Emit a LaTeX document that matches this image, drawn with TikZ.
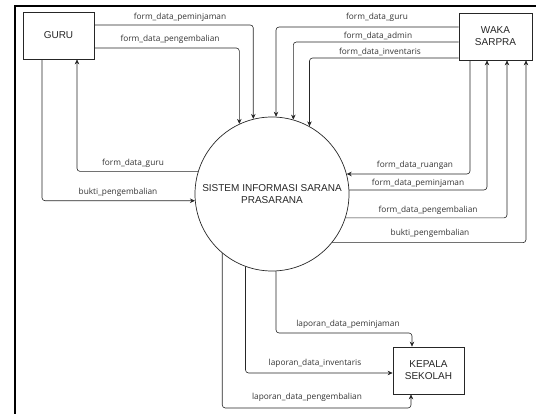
\documentclass[tikz,border=0pt]{standalone}
\usepackage{fontspec}
\setmainfont{Liberation Sans}
\newfontfamily\lblfont{Open Sans}
\usetikzlibrary{arrows.meta}
\begin{document}
\begin{tikzpicture}[x=1pt,y=-1pt,
  ent/.style={draw=black!85, line width=0.7pt, rectangle, inner sep=0pt, font=\fontsize{10}{12}\selectfont, align=center, text=black!85},
  proc/.style={draw=black!85, line width=0.7pt, circle, minimum size=154pt, inner sep=0pt, font=\fontsize{10}{12}\selectfont, align=center, text=black!85},
  flow/.style={draw=black!85, line width=0.6pt, rounded corners=3pt, -{Stealth[length=5pt,width=4.5pt]}},
  lbl/.style={font=\lblfont\fontsize{8.3}{9}\selectfont, text=black!80, inner sep=0pt}]
\useasboundingbox (0,0) rectangle (536,414);
\draw[line width=1.6pt] (15,414) -- (15,6) -- (537,6);

\node[ent, minimum width=71pt, minimum height=47pt] (guru) at (58.5,35.5) {GURU};
\node[ent, minimum width=73pt, minimum height=47pt] (waka) at (495.5,36.5) {WAKA\\SARPRA};
\node[ent, minimum width=71pt, minimum height=47pt] (kepala) at (428.5,370.5) {KEPALA\\SEKOLAH};
\node[proc] (sis) at (272,194) {SISTEM INFORMASI SARANA\\PRASARANA};

% GURU flows
\draw[flow] (guru.east |- 0,25) -| (sis.104.3);
\draw[flow] (guru.east |- 0,48) -| (sis.115.4);
\draw[flow] (sis.163.4) -| (77,0 |- guru.south);
\draw[flow] (42,0 |- guru.south) |- (sis.185.2);
\node[lbl] (l1) at (180,17) {form\_data\_peminjaman};
\node[lbl] (l2) at (170,39) {form\_data\_pengembalian};
\node[lbl] (l3) at (133,163) {form\_data\_guru};
\node[lbl] (l4) at (118,192) {bukti\_pengembalian};

% WAKA flows
\draw[flow] (waka.west |- 0,27) -| (sis.87.8);
\draw[flow] (waka.west |- 0,42) -| (sis.74.9);
\draw[flow] (waka.west |- 0,58) -| (sis.61.3);
\draw[flow] (470,0 |- waka.south) |- (sis.15.8);
\draw[flow] (sis.3.0) -| (487,0 |- waka.south);
\draw[flow] (sis.-18.2) -| (507,0 |- waka.south);
\draw[flow] (sis.-39.5) -| (526,0 |- waka.south);
\node[lbl] (l5) at (377,17) {form\_data\_guru};
\node[lbl] (l6) at (378,36) {form\_data\_admin};
\node[lbl] (l7) at (380,52) {form\_data\_inventaris};
\node[lbl] (l8) at (415,165) {form\_data\_ruangan};
\node[lbl] (l9) at (418,183) {form\_data\_peminjaman};
\node[lbl] (l10) at (428,210) {form\_data\_pengembalian};
\node[lbl] (l11) at (430,233) {bukti\_pengembalian};

% KEPALA flows
\draw[flow] (sis.-87.8) |- (412,333) -- (412,0 |- kepala.north);
\draw[flow] (sis.-110.5) |- (kepala.west |- 0,373);
\draw[flow] (sis.-130.5) |- (411,408) -- (411,0 |- kepala.south);
\node[lbl] (l12) at (348,324) {laporan\_data\_peminjaman};
\node[lbl] (l13) at (315,363) {laporan\_data\_inventaris};
\node[lbl] (l14) at (307,397) {laporan\_data\_pengembalian};
\end{tikzpicture}
\end{document}
